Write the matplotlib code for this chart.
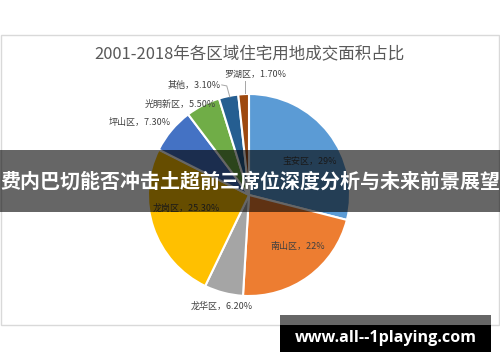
import matplotlib
matplotlib.use("Agg")
import matplotlib.pyplot as plt
from matplotlib.patches import Rectangle
import numpy as np

plt.rcParams['font.family'] = ['Noto Sans CJK SC', 'DejaVu Sans']

# ---- data ----
categories = ['宝安区', '南山区', '龙华区', '龙岗区', '坪山区', '光明新区', '其他', '罗湖区']
values = [29.0, 22.0, 6.2, 25.3, 7.3, 5.5, 3.1, 1.7]
value_labels = ['29%', '22%', '6.20%', '25.30%', '7.30%', '5.50%', '3.10%', '1.70%']
colors = ['#5B9BD5', '#ED7D31', '#A5A5A5', '#FFC000', '#4472C4', '#70AD47', '#255E91', '#9E480E']
title = '2001-2018年各区域住宅用地成交面积占比'
banner = '费内巴切能否冲击土超前三席位深度分析与未来前景展望'
watermark = 'www.all--1playing.com'

# label placement (in pie-radius units)
label_pos = [(0.60, 0.33), (0.48, -0.51), (-0.27, -1.10), (-0.62, -0.13),
             (-1.08, 0.72), (-0.68, 0.90), (-0.54, 1.09), (0.06, 1.19)]

W, H = 500, 362
fig = plt.figure(figsize=(W / 100, H / 100), dpi=100)

# background overlay axes in pixel coords (top-origin)
bg = fig.add_axes([0, 0, 1, 1])
bg.set_xlim(0, W)
bg.set_ylim(H, 0)
bg.axis('off')
bg.add_patch(Rectangle((0.5, 35), 498.5, 290, fill=False, edgecolor='#D9D9D9', lw=1))
bg.text(249, 55, title, ha='center', va='center', fontsize=11.9, color='#595959')

# pie axes
cx, cy, R = 249, 195, 101
S = 320
ax = fig.add_axes([(cx - S / 2) / W, (H - cy - S / 2) / H, S / W, S / H])
ax.pie(values, colors=colors, startangle=90, counterclock=False, radius=1,
       wedgeprops=dict(edgecolor='white', linewidth=1.5))
lim = S / 2 / R
ax.set_xlim(-lim, lim)
ax.set_ylim(-lim, lim)
ax.set_aspect('equal')
ax.axis('off')

for cat, vl, (lx, ly) in zip(categories, value_labels, label_pos):
    ax.text(lx, ly, f'{cat}，{vl}', ha='center', va='center', fontsize=6.5, color='#404040')

# leader lines for small slices
ax.plot([-0.27, -0.22, -0.19], [1.09, 1.08, 0.97], color='#A6A6A6', lw=0.7)
ax.plot([-0.04, -0.04], [1.13, 1.01], color='#A6A6A6', lw=0.7)

# overlays on top
top = fig.add_axes([0, 0, 1, 1])
top.set_xlim(0, W)
top.set_ylim(H, 0)
top.axis('off')
top.patch.set_alpha(0)
top.add_patch(Rectangle((0, 150), W, 62, facecolor='black', alpha=0.6, edgecolor='none'))
top.text(250, 181, banner, ha='center', va='center', fontsize=14.4, color='white', fontweight='bold')
top.add_patch(Rectangle((280, 315), 211, 10, facecolor='#666666', edgecolor='none'))
top.add_patch(Rectangle((280, 325), 211, 27, facecolor='black', edgecolor='none'))
top.text(385.5, 338, watermark, ha='center', va='center', fontsize=11.6, color='white',
         fontweight='bold', family=['Open Sans', 'DejaVu Sans'])

fig.savefig('out.png', dpi=100)
